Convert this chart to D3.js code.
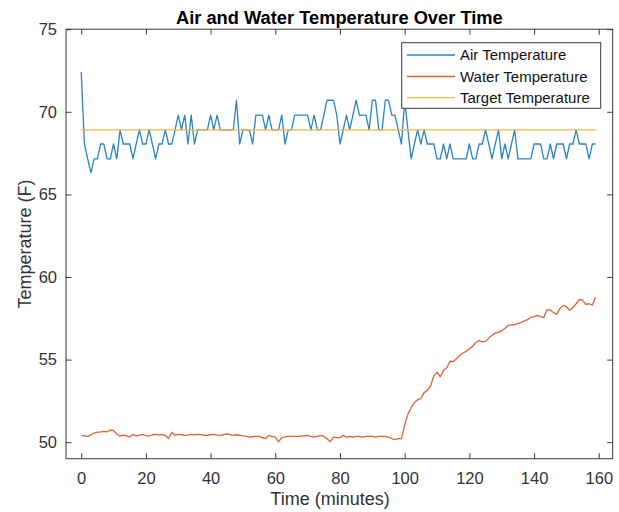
<!DOCTYPE html>
<html>
<head>
<meta charset="utf-8">
<script src="https://cdn.jsdelivr.net/npm/d3@7/dist/d3.min.js"></script>
<style>
  html, body { margin: 0; padding: 0; background: #fff; }
  svg { display: block; font-family: "Liberation Sans", Arial, Helvetica, sans-serif; }
</style>
</head>
<body>
<svg id="chart" width="619" height="512"></svg>
<script>
// ---- data ----
const title = "Air and Water Temperature Over Time";
const xLabel = "Time (minutes)";
const yLabel = "Temperature (F)";
const seriesNames = ["Air Temperature", "Water Temperature", "Target Temperature"];
const seriesColors = ["#2a84c6", "#dc6334", "#EDB94A"];
const xTicks = [0, 20, 40, 60, 80, 100, 120, 140, 160];
const yTicks = [50, 55, 60, 65, 70, 75];

// time in minutes (one sample per minute)
const minutes = d3.range(0, 160);

const airTemp = [
  72.4, 68.05, 67.15, 66.3, 67.15, 67.15, 68.05, 68.05, 67.15, 67.15,
  68.05, 67.15, 68.9, 68.05, 68.05, 68.05, 67.15, 68.05, 68.9, 68.05,
  68.05, 68.9, 68.05, 67.15, 68.05, 68.05, 68.9, 68.05, 68.05, 68.9,
  69.8, 68.9, 69.8, 68.05, 69.8, 68.05, 68.9, 68.9, 68.9, 68.9,
  69.8, 68.9, 69.8, 68.9, 68.9, 68.9, 68.9, 68.9, 70.7, 68.05,
  68.9, 68.9, 68.9, 68.05, 69.8, 69.8, 69.8, 68.9, 69.8, 68.9,
  68.9, 68.9, 69.8, 68.05, 68.9, 68.9, 69.8, 69.8, 69.8, 69.8,
  69.8, 68.9, 69.8, 68.9, 68.9, 69.8, 70.7, 70.7, 70.7, 69.8,
  68.05, 68.9, 69.8, 68.9, 69.8, 70.7, 69.8, 69.8, 69.8, 68.9,
  70.7, 70.7, 68.9, 68.9, 70.7, 70.7, 69.8, 69.8, 68.9, 68.05,
  70.7, 68.9, 67.15, 68.05, 68.9, 68.05, 68.9, 68.05, 68.05, 68.05,
  67.15, 67.15, 68.05, 67.15, 68.05, 67.15, 67.15, 67.15, 67.15, 67.15,
  68.05, 67.15, 67.15, 68.05, 68.05, 68.9, 68.05, 67.15, 68.05, 68.9,
  67.15, 68.05, 67.15, 68.05, 68.9, 67.15, 67.15, 67.15, 67.15, 67.15,
  68.05, 68.05, 68.05, 67.15, 67.15, 68.05, 67.15, 68.05, 68.05, 68.05,
  67.15, 68.05, 68.05, 68.9, 68.05, 68.05, 68.05, 67.15, 68.05, 68.05
];

const waterTemp = [
  50.41, 50.38, 50.35, 50.45, 50.55, 50.61, 50.63, 50.66, 50.62, 50.75,
  50.70, 50.50, 50.36, 50.42, 50.38, 50.32, 50.47, 50.38, 50.42, 50.47,
  50.40, 50.36, 50.45, 50.47, 50.43, 50.47, 50.40, 50.22, 50.60, 50.42,
  50.47, 50.45, 50.41, 50.43, 50.47, 50.44, 50.47, 50.46, 50.42, 50.41,
  50.45, 50.47, 50.43, 50.41, 50.46, 50.51, 50.46, 50.41, 50.45, 50.42,
  50.38, 50.35, 50.30, 50.33, 50.35, 50.35, 50.28, 50.21, 50.41, 50.35,
  50.30, 50.02, 50.28, 50.32, 50.35, 50.35, 50.35, 50.35, 50.37, 50.39,
  50.41, 50.35, 50.30, 50.35, 50.41, 50.35, 50.21, 50.02, 50.30, 50.28,
  50.28, 50.41, 50.30, 50.35, 50.30, 50.35, 50.35, 50.30, 50.35, 50.35,
  50.35, 50.30, 50.35, 50.35, 50.35, 50.30, 50.21, 50.15, 50.21, 50.21,
  51.05, 51.70, 52.10, 52.40, 52.57, 52.63, 53.00, 53.13, 53.40, 54.00,
  54.24, 53.95, 54.35, 54.50, 54.90, 54.88, 55.05, 55.25, 55.40, 55.50,
  55.65, 55.80, 56.05, 56.15, 56.08, 56.10, 56.30, 56.47, 56.60, 56.65,
  56.75, 56.90, 57.07, 57.10, 57.11, 57.18, 57.25, 57.35, 57.42, 57.55,
  57.60, 57.68, 57.60, 57.55, 58.02, 58.00, 57.85, 57.74, 58.10, 58.28,
  58.20, 57.98, 58.15, 58.38, 58.65, 58.60, 58.34, 58.38, 58.30, 58.78
];

const targetTemp = minutes.map(() => 68.9);

// ---- layout ----
const svg = d3.select("#chart");
const pLeft = 66, pRight = 612.7, pTop = 29.2, pBottom = 458.7;
const x = d3.scaleLinear().domain([-4.7, 164.3]).range([pLeft, pRight]);
const y = d3.scaleLinear().domain([49, 75]).range([pBottom, pTop]);
const axisColor = "#3a3a3a";

// series
const line = d3.line().x((d, i) => x(minutes[i])).y(d => y(d));
const allSeries = [airTemp, waterTemp, targetTemp];
allSeries.forEach((s, k) => {
  svg.append("path").datum(s)
    .attr("d", line)
    .attr("fill", "none")
    .attr("stroke", seriesColors[k])
    .attr("stroke-width", 1.3)
    .attr("stroke-linejoin", "round");
});

// axes (ticks inward, box)
const tickLen = 5.5;
const gx = svg.append("g").attr("transform", `translate(0,${pBottom})`)
  .call(d3.axisBottom(x).tickValues(xTicks).tickSizeInner(-tickLen).tickSizeOuter(0).tickPadding(14));
const gxTop = svg.append("g").attr("transform", `translate(0,${pTop})`)
  .call(d3.axisTop(x).tickValues(xTicks).tickSizeInner(-tickLen).tickSizeOuter(0).tickFormat(""));
const gy = svg.append("g").attr("transform", `translate(${pLeft},0)`)
  .call(d3.axisLeft(y).tickValues(yTicks).tickSizeInner(-tickLen).tickSizeOuter(0).tickPadding(9));
const gyR = svg.append("g").attr("transform", `translate(${pRight},0)`)
  .call(d3.axisRight(y).tickValues(yTicks).tickSizeInner(-tickLen).tickSizeOuter(0).tickFormat(""));

[gx, gxTop, gy, gyR].forEach(g => {
  g.select(".domain").remove();
  g.selectAll(".tick line").attr("stroke", axisColor).attr("stroke-width", 1);
  g.selectAll(".tick text").attr("fill", "#333")
    .style("font-size", "16.5px")
    .style("font-family", "'Liberation Sans', Arial, sans-serif");
});

svg.append("rect").attr("x", pLeft).attr("y", pTop)
  .attr("width", pRight - pLeft).attr("height", pBottom - pTop)
  .attr("fill", "none").attr("stroke", axisColor).attr("stroke-width", 1);

// title and labels
svg.append("text").attr("x", (pLeft + pRight) / 2).attr("y", 24)
  .attr("text-anchor", "middle").attr("fill", "#000")
  .style("font-size", "18.3px").style("font-weight", "bold")
  .text(title);

svg.append("text").attr("x", 330).attr("y", 505)
  .attr("text-anchor", "middle").attr("fill", "#333")
  .style("font-size", "18px")
  .text(xLabel);

svg.append("text")
  .attr("transform", `translate(31,${(pTop + pBottom) / 2}) rotate(-90)`)
  .attr("text-anchor", "middle").attr("fill", "#333")
  .style("font-size", "18px")
  .text(yLabel);

// legend
const lg = svg.append("g");
const lx0 = 401.7, ly0 = 42.7, lw = 199, lh = 65.6;
lg.append("rect").attr("x", lx0).attr("y", ly0).attr("width", lw).attr("height", lh)
  .attr("fill", "#fff").attr("stroke", axisColor).attr("stroke-width", 1);
const rowY = [55, 76.5, 97.7];
seriesNames.forEach((name, k) => {
  lg.append("line").attr("x1", 407).attr("x2", 455)
    .attr("y1", rowY[k]).attr("y2", rowY[k])
    .attr("stroke", seriesColors[k]).attr("stroke-width", 1.3);
  lg.append("text").attr("x", 460).attr("y", rowY[k] + 5.3)
    .attr("fill", "#111").style("font-size", "15px")
    .text(name);
});
</script>
</body>
</html>
